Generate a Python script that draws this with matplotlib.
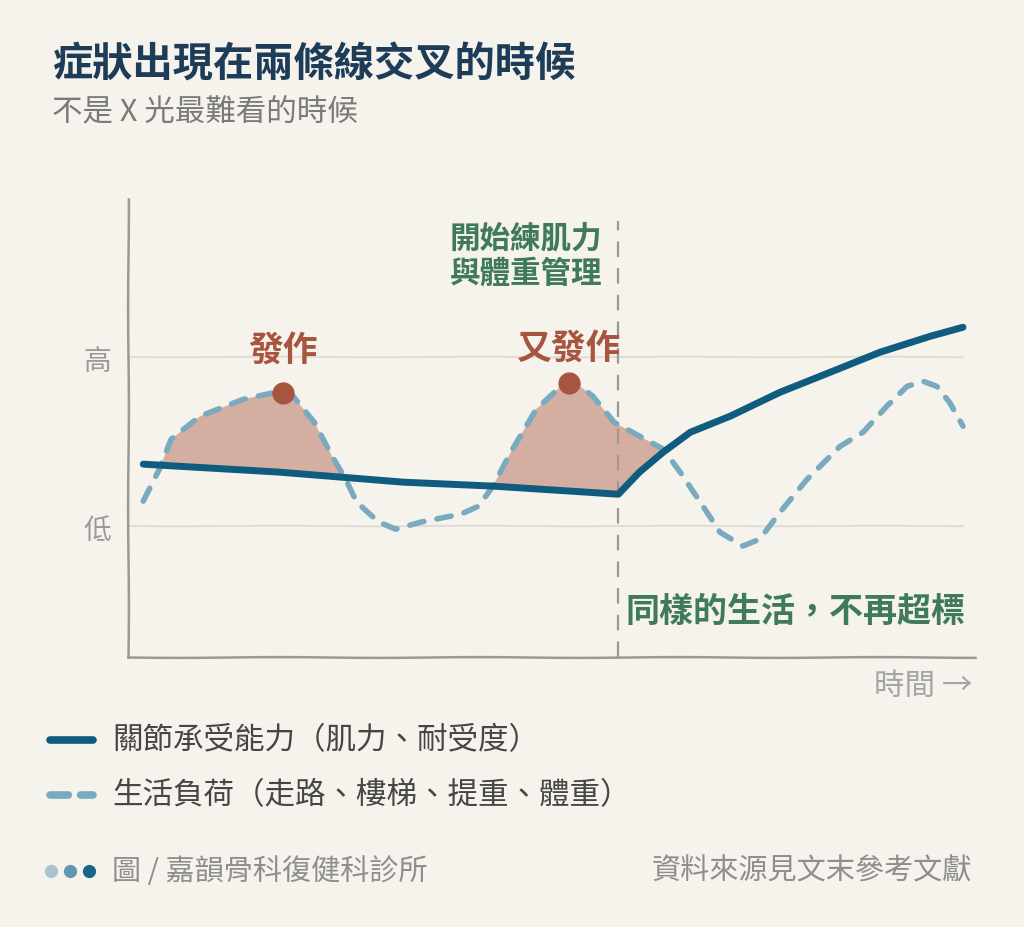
import numpy as np
import matplotlib
matplotlib.use('Agg')
import matplotlib.pyplot as plt
from matplotlib.lines import Line2D

plt.rcParams['font.family'] = ['Noto Sans CJK TC', 'DejaVu Sans']

# time axis 0-100, load level: 1 = 低, 2 = 高
cap_x = [1.8, 17.8, 32.6, 43.1, 57.9, 60.4, 63.2, 66.4, 71.1, 77.0, 82.9, 88.8, 94.7, 98.6]
cap_y = [1.367, 1.320, 1.260, 1.237, 1.189, 1.320, 1.438, 1.556, 1.651, 1.793, 1.911, 2.030, 2.124, 2.178]

load_x = [1.8, 3.7, 5.1, 8.5, 13.6, 16.9, 19.5, 22.0, 24.1, 25.7, 27.0, 29.6, 31.6, 34.6,
          39.3, 41.4, 43.1, 45.2, 48.2, 51.1, 52.8, 54.9, 57.4, 60.4, 63.2, 65.2, 67.9,
          69.9, 72.6, 74.6, 77.0, 80.2, 84.1, 86.8, 89.6, 92.0, 93.9, 95.5, 97.0, 98.6]
load_y = [1.148, 1.337, 1.515, 1.651, 1.751, 1.787, 1.769, 1.615, 1.414, 1.278, 1.142,
          1.024, 0.982, 1.024, 1.071, 1.118, 1.237, 1.438, 1.692, 1.828, 1.852, 1.769,
          1.615, 1.533, 1.456, 1.320, 1.118, 0.964, 0.882, 0.923, 1.083, 1.278, 1.473,
          1.556, 1.710, 1.828, 1.858, 1.828, 1.734, 1.592]

flare_x = [18.3, 52.1]
flare_y = [1.787, 1.846]
flare_labels = ['發作', '又發作']
flare_label_y = [2.05, 2.06]

start_x = 57.9
y_ticks = [1, 2]
y_labels = ['低', '高']

bg = '#f6f2ec'
navy = '#0f5c7e'
light = '#7aaac0'
brown = '#a8553f'
fillc = '#d4afa1'
green = '#3f7a5c'

fig = plt.figure(figsize=(10.24, 9.28), dpi=100, facecolor=bg)
ax = fig.add_axes([0.125, 0.291, 0.827, 0.493], facecolor=bg)
ax.set_xlim(0, 100)
ax.set_ylim(0.225, 2.935)

# shaded area where load is above capacity
grid_x = np.union1d(cap_x, load_x)
c = np.interp(grid_x, cap_x, cap_y)
l = np.interp(grid_x, load_x, load_y)
ax.fill_between(grid_x, c, l, where=l > c, interpolate=True, color=fillc, lw=0, zorder=1)

for y in y_ticks:
    g = ax.plot([0, 98.6], [y, y], color='#dddbd6', lw=1.3, zorder=0)[0]
    g.set_sketch_params(0.3, 200, 1)

ax.plot([start_x, start_x], [0.225, 2.805], color='#9a9a96', lw=1.6,
        dashes=[7, 5], zorder=2)

ax.plot(load_x, load_y, color=light, lw=4.0, dashes=[2.6, 2.4],
        dash_capstyle='round', solid_joinstyle='round', zorder=3)
ax.plot(cap_x, cap_y, color=navy, lw=5.0, solid_capstyle='round',
        solid_joinstyle='round', zorder=4)
ax.plot(flare_x, flare_y, 'o', color=brown, ms=16, mec='none', zorder=5)

for x, ly, t in zip(flare_x, flare_label_y, flare_labels):
    ax.text(x, ly, t, ha='center', va='center', fontsize=25, fontweight='bold', color=brown)

ax.text(56.0, 2.71, '開始練肌力', ha='right', va='center', fontsize=22,
        fontweight='bold', color=green)
ax.text(56.0, 2.50, '與體重管理', ha='right', va='center', fontsize=22,
        fontweight='bold', color=green)
ax.text(58.7, 0.50, '同樣的生活，不再超標', ha='left', va='center', fontsize=24.5,
        fontweight='bold', color=green)

for s in ['top', 'right']:
    ax.spines[s].set_visible(False)
for s in ['left', 'bottom']:
    ax.spines[s].set_color('#9a9a96')
    ax.spines[s].set_linewidth(1.8)
    ax.spines[s].set_sketch_params(0.4, 200, 1)
ax.set_xticks([])
ax.set_yticks(y_ticks)
ax.set_yticklabels(y_labels, fontsize=20, color='#9a9a9a')
ax.tick_params(axis='y', length=0, pad=12)

fig.text(972 / 1024, 1 - 686 / 928, '時間 →', ha='right', va='center',
         fontsize=22, color='#a5a5a5')

# titles
fig.text(52 / 1024, 1 - 65 / 928, '症狀出現在兩條線交叉的時候', ha='left', va='center',
         fontsize=29, fontweight='bold', color='#1d3c58')
fig.text(52 / 1024, 1 - 112 / 928, '不是 X 光最難看的時候', ha='left', va='center',
         fontsize=22, color='#7a7a7a')

# legend
fig.add_artist(Line2D([50 / 1024, 93 / 1024], [1 - 741 / 928, 1 - 741 / 928],
                      color=navy, lw=5.5, solid_capstyle='round'))
fig.add_artist(Line2D([50 / 1024, 93 / 1024], [1 - 796 / 928, 1 - 796 / 928],
                      color=light, lw=5.5, dashes=[2.4, 1.6], dash_capstyle='round'))
fig.text(112 / 1024, 1 - 741 / 928, '關節承受能力（肌力、耐受度）', ha='left', va='center',
         fontsize=22, color='#464646')
fig.text(112 / 1024, 1 - 796 / 928, '生活負荷（走路、樓梯、提重、體重）', ha='left', va='center',
         fontsize=22, color='#464646')

# footer
for x, col in zip([51, 70, 89], ['#a9c4d0', '#5f98af', '#1a6389']):
    fig.add_artist(Line2D([x / 1024], [1 - 872 / 928], marker='o', ms=9.5,
                          color=col, mec='none', lw=0))
fig.text(112 / 1024, 1 - 872 / 928, '圖 / 嘉韻骨科復健科診所', ha='left', va='center',
         fontsize=21, color='#8e8e8e')
fig.text(972 / 1024, 1 - 872 / 928, '資料來源見文末參考文獻', ha='right', va='center',
         fontsize=21, color='#8e8e8e')

fig.savefig('out.png', dpi=100, facecolor=bg)
